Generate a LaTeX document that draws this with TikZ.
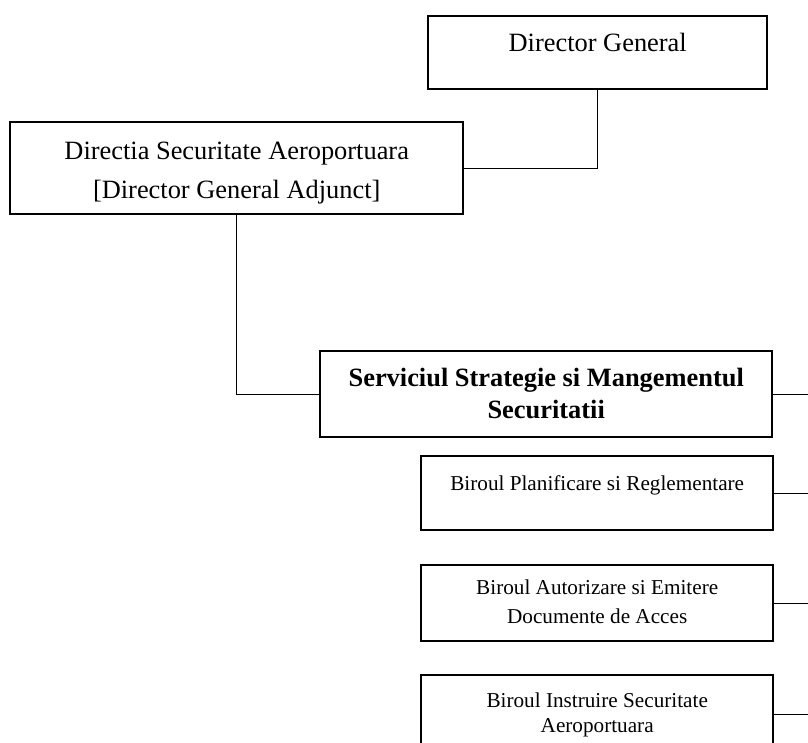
\documentclass[tikz,border=0pt]{standalone}
\usepackage{fontspec}
\setmainfont{Liberation Serif}
\tikzset{
  orgbox/.style={draw, line width=1.2pt, inner sep=0pt, anchor=north west},
  link/.style={line width=0.6pt}
}
\begin{document}
\begin{tikzpicture}[x=1pt, y=1pt]
    \clip (0,0) rectangle (404,-371.5);
    % Director General box
    \node[orgbox] (dg) at (213.5,-7.5) {%
      \begin{minipage}[t][36.5pt][t]{169.5pt}
        \centering\fontsize{13.2}{19.5}\selectfont
        \rule{0pt}{17.5pt}Director General
      \end{minipage}%
    };
    % Directia box
    \node[orgbox] (dir) at (4.5,-60.5) {%
      \begin{minipage}[t][46pt][t]{226.5pt}
        \centering\fontsize{13.2}{19.5}\selectfont
        \rule{0pt}{18.5pt}Directia Securitate Aeroportuara\\{}[Director General Adjunct]
      \end{minipage}%
    };
    % Serviciul box
    \node[orgbox] (serv) at (159.5,-175) {%
      \begin{minipage}[t][43pt][t]{226pt}
        \centering\fontsize{13.2}{16}\selectfont\bfseries
        \rule{0pt}{17.5pt}Serviciul Strategie si Mangementul\\Securitatii
      \end{minipage}%
    };
    % Birouri
    \node[orgbox] (b1) at (210,-227.5) {%
      \begin{minipage}[t][37pt][t]{176pt}
        \centering\fontsize{10.6}{14}\selectfont
        \rule{0pt}{17pt}Biroul Planificare si Reglementare
      \end{minipage}%
    };
    \node[orgbox] (b2) at (210,-282) {%
      \begin{minipage}[t][38pt][t]{176pt}
        \centering\fontsize{10.6}{14.5}\selectfont
        \rule{0pt}{14.5pt}Biroul Autorizare si Emitere\\Documente de Acces
      \end{minipage}%
    };
    \node[orgbox] (b3) at (210,-337) {%
      \begin{minipage}[t][39pt][t]{176pt}
        \centering\fontsize{10.6}{12.5}\selectfont
        \rule{0pt}{16pt}Biroul Instruire Securitate\\Aeroportuara
      \end{minipage}%
    };
    % Links
    \coordinate (spine) at (420,0);
    \draw[link] (dg.south) |- (dir.east);
    \draw[link] (dir.south) |- (serv.west);
    \foreach \b in {serv,b1,b2,b3}
      \draw[link] (\b.east) -- (\b.east -| spine);
\end{tikzpicture}
\end{document}
